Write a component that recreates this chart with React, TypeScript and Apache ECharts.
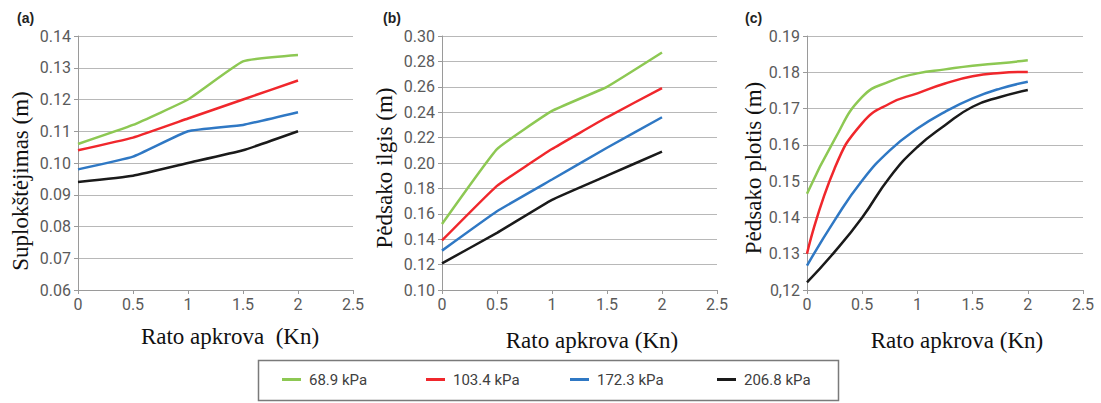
import React, { useEffect, useRef } from "react";
import * as echarts from "echarts";

// ---- data ----
const PRESSURES = ["68.9 kPa", "103.4 kPa", "172.3 kPa", "206.8 kPa"];
const COLORS = ["#8dc853", "#f0272c", "#2f78c4", "#1a1a1a"];

const X_AB = [0, 0.5, 1, 1.5, 2];
const X_C = [0, 0.25, 0.5, 0.75, 1, 1.25, 1.5, 1.75, 2];

// (a) Suplokštėjimas (m)
const A_689 = [0.106, 0.112, 0.12, 0.132, 0.134];
const A_1034 = [0.104, 0.108, 0.114, 0.12, 0.126];
const A_1723 = [0.098, 0.102, 0.11, 0.112, 0.116];
const A_2068 = [0.094, 0.096, 0.1, 0.104, 0.11];

// (b) Pėdsako ilgis (m)
const B_689 = [0.152, 0.211, 0.241, 0.26, 0.287];
const B_1034 = [0.139, 0.182, 0.211, 0.236, 0.259];
const B_1723 = [0.131, 0.162, 0.187, 0.212, 0.236];
const B_2068 = [0.121, 0.145, 0.171, 0.19, 0.209];

// (c) Pėdsako plotis (m)
const C_689 = [0.1465, 0.1615, 0.1732, 0.1775, 0.1797, 0.1808, 0.1818, 0.1825, 0.1833];
const C_1034 = [0.13, 0.1535, 0.166, 0.1714, 0.1742, 0.1769, 0.1789, 0.1798, 0.1801];
const C_1723 = [0.1267, 0.1392, 0.1502, 0.1585, 0.1645, 0.1691, 0.1728, 0.1755, 0.1774];
const C_2068 = [0.1221, 0.1305, 0.14, 0.1511, 0.1594, 0.1654, 0.1705, 0.1732, 0.1751];

const Y_TITLES = ["Suplokštėjimas (m)", "Pėdsako ilgis (m)", "Pėdsako plotis (m)"];
const X_TITLE_A = "Rato apkrova  (Kn)";
const X_TITLE_BC = "Rato apkrova (Kn)";
const PANEL_LABELS = ["(a)", "(b)", "(c)"];

const Y_RANGES = [
  { min: 0.06, max: 0.14, interval: 0.01 },
  { min: 0.1, max: 0.3, interval: 0.02 },
  { min: 0.12, max: 0.19, interval: 0.01 },
];

const zip = (xs: number[], ys: number[]) => xs.map((x, i) => [x, ys[i]]);

export default function App() {
  const ref = useRef<HTMLDivElement>(null);

  useEffect(() => {
    if (!ref.current) return;
    const chart = echarts.init(ref.current, undefined, { renderer: "svg" });

    const grids = [
      { left: 78, top: 36, width: 275, height: 254 },
      { left: 442, top: 36, width: 275, height: 254 },
      { left: 807, top: 36, width: 276, height: 254 },
    ];

    const axisColor = "#9a9a9a";
    const gridColor = "#b8b8b8";
    const labelStyle = {
      fontFamily: "Roboto",
      fontSize: 16,
      color: "#5a5a5a",
    };

    const xAxes = grids.map((_, i) => ({
      type: "value",
      gridIndex: i,
      min: 0,
      max: 2.5,
      interval: 0.5,
      axisLine: { show: true, lineStyle: { color: axisColor, width: 1 } },
      axisTick: { show: true, length: 4, lineStyle: { color: axisColor } },
      splitLine: { show: false },
      axisLabel: { ...labelStyle, margin: 6 },
    }));

    const yAxes = grids.map((_, i) => ({
      type: "value",
      gridIndex: i,
      min: Y_RANGES[i].min,
      max: Y_RANGES[i].max,
      interval: Y_RANGES[i].interval,
      axisLine: { show: true, lineStyle: { color: axisColor, width: 1 } },
      axisTick: { show: true, length: 4, lineStyle: { color: axisColor } },
      splitLine: { show: true, lineStyle: { color: gridColor, width: 1.2 } },
      axisLabel: {
        ...labelStyle,
        margin: 7,
        formatter: (v: number) => {
          const s = v.toFixed(2);
          return i === 2 && Math.abs(v - 0.12) < 1e-9 ? s.replace(".", ",") : s;
        },
      },
    }));

    const sets = [
      { xs: X_AB, ys: [A_689, A_1034, A_1723, A_2068], smooth: 0.12 },
      { xs: X_AB, ys: [B_689, B_1034, B_1723, B_2068], smooth: 0.1 },
      { xs: X_C, ys: [C_689, C_1034, C_1723, C_2068], smooth: 0.5 },
    ];

    const series: any[] = [];
    sets.forEach((s, gi) => {
      s.ys.forEach((ys, k) => {
        series.push({
          type: "line",
          name: PRESSURES[k],
          xAxisIndex: gi,
          yAxisIndex: gi,
          data: zip(s.xs, ys),
          smooth: s.smooth,
          showSymbol: false,
          symbol: "none",
          lineStyle: { color: COLORS[k], width: 2.5 },
          itemStyle: { color: COLORS[k] },
          z: 10 - k,
        });
      });
    });

    const serif = "'Liberation Serif', 'Times New Roman', serif";
    const yTitlePos = [
      { x: 20, y: 181 },
      { x: 384, y: 168 },
      { x: 753, y: 168 },
    ];
    const xTitlePos = [
      { x: 230, y: 336 },
      { x: 592, y: 340 },
      { x: 957, y: 340 },
    ];
    const panelPos = [
      { x: 17, y: 18 },
      { x: 383, y: 18 },
      { x: 745, y: 18 },
    ];

    const graphic: any[] = [];
    yTitlePos.forEach((p, i) => {
      graphic.push({
        type: "text",
        x: p.x,
        y: p.y,
        rotation: Math.PI / 2,
        style: {
          text: Y_TITLES[i],
          font: `23px ${serif}`,
          fill: "#111",
          textAlign: "center",
          textVerticalAlign: "middle",
        },
      });
    });
    xTitlePos.forEach((p, i) => {
      graphic.push({
        type: "text",
        x: p.x,
        y: p.y,
        style: {
          text: i === 0 ? X_TITLE_A : X_TITLE_BC,
          font: `23px ${serif}`,
          fill: "#111",
          textAlign: "center",
          textVerticalAlign: "middle",
        },
      });
    });
    panelPos.forEach((p, i) => {
      graphic.push({
        type: "text",
        x: p.x,
        y: p.y,
        style: {
          text: PANEL_LABELS[i],
          font: "bold 14px 'Liberation Sans', Arial, sans-serif",
          fill: "#222",
          textAlign: "left",
          textVerticalAlign: "middle",
        },
      });
    });
    graphic.push({
      type: "rect",
      shape: { x: 258.5, y: 360.5, width: 580, height: 40 },
      style: { fill: "none", stroke: "#7a7a7a", lineWidth: 1.5 },
    });

    const legendLefts = [282, 426, 570, 717];
    const legends = PRESSURES.map((name, k) => ({
      data: [name],
      left: legendLefts[k],
      top: 372,
      padding: 0,
      icon: "rect",
      itemWidth: 19,
      itemHeight: 3,
      itemGap: 8,
      selectedMode: false,
      textStyle: {
        fontFamily: "Roboto",
        fontSize: 15,
        color: "#404040",
        padding: [0, 0, 0, 3],
      },
    }));

    chart.setOption({
      animation: false,
      backgroundColor: "#ffffff",
      grid: grids,
      xAxis: xAxes,
      yAxis: yAxes,
      series,
      legend: legends,
      graphic,
    });

    return () => chart.dispose();
  }, []);

  return (
    <div
      ref={ref}
      style={{ position: "fixed", left: 0, top: 0, width: 1101, height: 403 }}
    />
  );
}
